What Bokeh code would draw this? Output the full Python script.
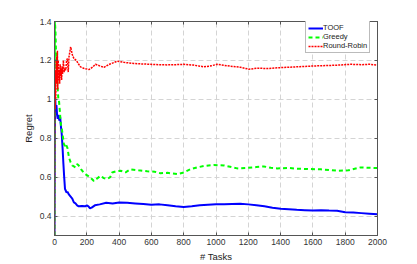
from bokeh.plotting import figure
from bokeh.models import LinearAxis, Legend, LegendItem, FixedTicker
from bokeh.embed import file_html
from bokeh.resources import INLINE

toof_x = [0, 2, 5, 8, 12, 16, 20, 25, 30, 35, 40, 45, 50, 55, 60, 65, 70, 75, 80, 90,
          100, 110, 120, 130, 140, 150, 170, 190, 200, 210, 220, 230, 250, 280, 320, 360, 400, 450, 500, 550,
          600, 650, 700, 750, 800, 850, 900, 950, 1000, 1050, 1100, 1150, 1200, 1250, 1300, 1350, 1400, 1450, 1500, 1550,
          1600, 1650, 1700, 1750, 1800, 1850, 1900, 1950, 2000]
toof_y = [0.3, 0.85, 1.0, 0.93, 0.97, 0.92, 0.9, 0.92, 0.89, 0.91, 0.86, 0.82, 0.75, 0.67, 0.6, 0.54, 0.53, 0.52, 0.525, 0.51,
          0.50, 0.49, 0.47, 0.465, 0.455, 0.45, 0.452, 0.45, 0.455, 0.45, 0.44, 0.443, 0.455, 0.46, 0.468, 0.465, 0.47, 0.468, 0.465, 0.462,
          0.458, 0.46, 0.455, 0.45, 0.447, 0.45, 0.455, 0.458, 0.46, 0.46, 0.462, 0.463, 0.46, 0.455, 0.45, 0.443, 0.438, 0.435, 0.432, 0.43,
          0.428, 0.43, 0.428, 0.427, 0.42, 0.418, 0.415, 0.412, 0.409]

greedy_x = [0, 2, 4, 6, 8, 10, 13, 16, 20, 24, 27, 30, 34, 37, 40, 45, 50, 58, 65, 70,
            80, 90, 100, 110, 120, 130, 140, 150, 165, 180, 200, 220, 244, 260, 285, 305, 326, 345, 357, 380,
            409, 440, 471, 520, 574, 620, 656, 700, 760, 801, 840, 883, 930, 986, 1050, 1131, 1200, 1250, 1296, 1340,
            1379, 1450, 1500, 1564, 1650, 1750, 1820, 1895, 1950, 2000]
greedy_y = [0.3, 1.4, 1.38, 1.35, 1.28, 1.22, 1.15, 1.11, 1.05, 1.0, 1.0, 0.97, 0.93, 0.89, 0.87, 0.85, 0.82, 0.77, 0.76, 0.77,
            0.75, 0.70, 0.676, 0.66, 0.655, 0.65, 0.667, 0.66, 0.64, 0.624, 0.61, 0.6, 0.58, 0.59, 0.607, 0.595, 0.59, 0.6, 0.624, 0.63,
            0.633, 0.625, 0.64, 0.635, 0.63, 0.628, 0.62, 0.622, 0.616, 0.624, 0.64, 0.65, 0.658, 0.662, 0.66, 0.645, 0.648, 0.652, 0.655, 0.648,
            0.645, 0.647, 0.643, 0.642, 0.64, 0.633, 0.635, 0.65, 0.648, 0.647]

rr_x = [0, 2, 4, 6, 8, 10, 12, 14, 16, 18, 20, 23, 26, 29, 32, 35, 38, 41, 44, 47,
        50, 55, 60, 65, 70, 75, 80, 85, 90, 100, 110, 120, 135, 150, 161, 180, 213, 235, 254, 280,
        306, 340, 388, 430, 491, 540, 594, 650, 700, 750, 801, 860, 925, 970, 1007, 1090, 1150, 1203, 1260, 1320,
        1379, 1450, 1520, 1626, 1700, 1760, 1833, 1900, 1950, 2000]
rr_y = [0.3, 1.05, 0.95, 1.15, 1.0, 1.2, 1.08, 1.22, 1.1, 1.25, 1.05, 1.2, 1.1, 1.15, 1.08, 1.18, 1.12, 1.16, 1.1, 1.17,
        1.13, 1.2, 1.14, 1.16, 1.15, 1.2, 1.21, 1.14, 1.22, 1.27, 1.23, 1.21, 1.2, 1.18, 1.167, 1.16, 1.153, 1.165, 1.18, 1.172,
        1.164, 1.18, 1.196, 1.19, 1.184, 1.182, 1.18, 1.178, 1.177, 1.178, 1.18, 1.176, 1.167, 1.172, 1.18, 1.17, 1.165, 1.155, 1.16, 1.158,
        1.162, 1.165, 1.168, 1.172, 1.174, 1.176, 1.18, 1.178, 1.18, 1.176]

x_ticks = [0, 200, 400, 600, 800, 1000, 1200, 1400, 1600, 1800, 2000]
y_ticks = [0.4, 0.6, 0.8, 1.0, 1.2, 1.4]
y_tick_labels = {0.4: "0.4", 0.6: "0.6", 0.8: "0.8", 1.0: "1", 1.2: "1.2", 1.4: "1.4"}

FONT = "Liberation Sans"
AX = "#555555"
LBL = "#333333"

p = figure(frame_width=323, frame_height=214, x_range=(0, 2000), y_range=(0.3, 1.4),
           output_backend="svg", toolbar_location=None,
           min_border_left=54, min_border_top=21, min_border_right=32, min_border_bottom=22,
           background_fill_color="white", border_fill_color="white")
p.outline_line_color = AX
p.outline_line_width = 1

p.xaxis.ticker = FixedTicker(ticks=x_ticks)
p.yaxis.ticker = FixedTicker(ticks=y_ticks)
p.yaxis.major_label_overrides = y_tick_labels
p.xaxis.axis_label = "# Tasks"
p.yaxis.axis_label = "Regret"
for ax in (p.xaxis[0], p.yaxis[0]):
    ax.axis_line_color = AX
    ax.major_tick_line_color = AX
    ax.major_tick_in = 3
    ax.major_tick_out = 0
    ax.minor_tick_line_color = None
    ax.major_label_text_font = FONT
    ax.major_label_text_font_size = "8.5px"
    ax.major_label_text_color = LBL
    ax.axis_label_text_font = FONT
    ax.axis_label_text_font_size = "9.5px"
    ax.axis_label_text_font_style = "normal"
    ax.axis_label_text_color = "#222222"
    ax.major_label_standoff = 3
    ax.axis_label_standoff = 3

for loc, tk in (("above", x_ticks), ("right", y_ticks)):
    a = LinearAxis(ticker=FixedTicker(ticks=tk))
    a.axis_line_color = AX
    a.major_tick_line_color = AX
    a.major_tick_in = 3
    a.major_tick_out = 0
    a.minor_tick_line_color = None
    a.major_label_text_color = None
    a.major_label_text_font_size = "1px"
    a.major_label_standoff = 0
    p.add_layout(a, loc)

p.grid.grid_line_color = "#d4d4d4"
p.grid.grid_line_dash = "5 3"
p.grid.grid_line_width = 1

r1 = p.line(toof_x, toof_y, line_color="#0000ff", line_width=2)
r2 = p.line(greedy_x, greedy_y, line_color="#00ff00", line_width=2, line_dash="4 3")
r3 = p.line(rr_x, rr_y, line_color="#ff0000", line_width=1.5, line_dash="2 1")

legend = Legend(items=[LegendItem(label="TOOF", renderers=[r1]),
                       LegendItem(label="Greedy", renderers=[r2]),
                       LegendItem(label="Round-Robin", renderers=[r3])],
                location=(251, 182))
legend.label_text_font = FONT
legend.label_text_font_size = "7.5px"
legend.label_text_color = "#222222"
legend.border_line_color = "#777777"
legend.border_line_width = 1
legend.background_fill_alpha = 1
legend.glyph_width = 15
legend.glyph_height = 8
legend.label_height = 8
legend.label_standoff = 0
legend.spacing = 0
legend.padding = 2
legend.margin = 0
legend.label_text_line_height = 1.0
p.add_layout(legend)

open("out.html", "w").write(file_html(p, INLINE))
